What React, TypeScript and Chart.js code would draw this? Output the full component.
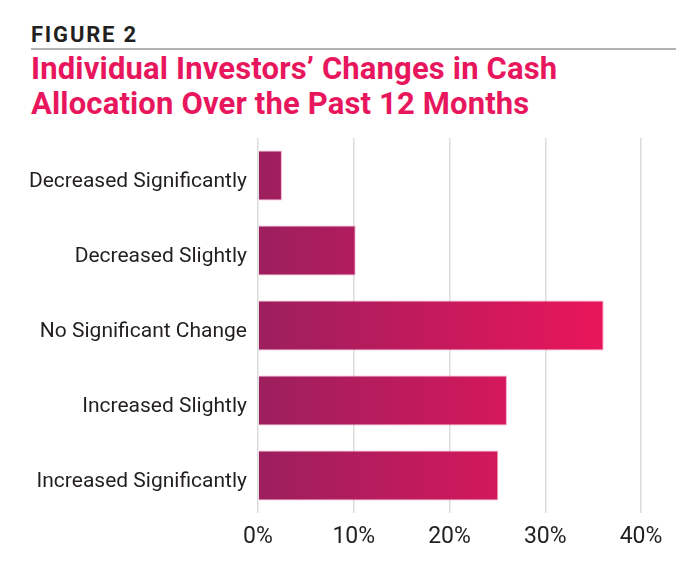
import { useEffect, useRef } from "react";
import { Chart, registerables } from "chart.js";

Chart.register(...registerables);

const categories = [
  "Decreased Significantly",
  "Decreased Slightly",
  "No Significant Change",
  "Increased Slightly",
  "Increased Significantly",
];
const shares = [2.5, 10.2, 36.1, 26.0, 25.1];
const xTicks = [0, 10, 20, 30, 40];

const App = () => {
  const canvasRef = useRef<HTMLCanvasElement | null>(null);

  useEffect(() => {
    document.body.style.margin = "0";
    const ctx = canvasRef.current?.getContext("2d");
    if (!ctx) return;

    const chart = new Chart(ctx, {
      type: "bar",
      data: {
        labels: categories,
        datasets: [
          {
            data: shares,
            backgroundColor: (c: any) => {
              const { chart: ch } = c;
              const area = ch.chartArea;
              if (!area) return "#b01e60";
              const x0 = ch.scales.x.getPixelForValue(0);
              const x1 = ch.scales.x.getPixelForValue(36.1);
              const g = ch.ctx.createLinearGradient(x0, 0, x1, 0);
              g.addColorStop(0, "#9c1f5e");
              g.addColorStop(1, "#ea155a");
              return g;
            },
            borderColor: "rgba(240,140,185,0.7)",
            borderWidth: 1,
            borderSkipped: "start",
            barPercentage: 0.667,
            categoryPercentage: 1,
          },
        ],
      },
      options: {
        indexAxis: "y",
        animation: false,
        responsive: false,
        events: [],
        layout: { padding: { top: 138, right: 59, left: 0, bottom: 0 } },
        plugins: {
          legend: { display: false },
          tooltip: { enabled: false },
        },
        scales: {
          x: {
            min: 0,
            max: 40,
            afterFit: (s: any) => {
              s.height = 59;
            },
            afterBuildTicks: (s: any) => {
              s.ticks = xTicks.map((v) => ({ value: v }));
            },
            ticks: {
              callback: (v: any) => v + "%",
              color: "#231f20",
              font: { family: "Roboto", size: 23 },
              padding: 10,
            },
            grid: {
              color: "#dcdcdc",
              lineWidth: 1.5,
              drawTicks: false,
            },
            border: { display: false },
          },
          y: {
            afterFit: (s: any) => {
              s.width = 258;
            },
            ticks: {
              color: "#231f20",
              font: { family: "Roboto", size: 21 },
              padding: 11,
              labelOffset: 6,
            },
            grid: { display: false, drawTicks: false },
            border: { display: false },
          },
        },
      },
    });

    return () => {
      chart.destroy();
    };
  }, []);

  return (
    <div
      style={{
        position: "fixed",
        left: 0,
        top: 0,
        width: 700,
        height: 572,
        background: "#fff",
        fontFamily: "Roboto, sans-serif",
      }}
    >
      <div
        style={{
          position: "absolute",
          left: 31,
          top: 23,
          fontSize: 22,
          fontWeight: 700,
          color: "#231f20",
          letterSpacing: 1.8,
          lineHeight: "24px",
        }}
      >
        FIGURE 2
      </div>
      <div
        style={{
          position: "absolute",
          left: 31,
          top: 47.5,
          width: 645,
          height: 2,
          background: "#b3b3b3",
        }}
      />
      <div
        style={{
          position: "absolute",
          left: 31,
          top: 51,
          fontSize: 31,
          fontWeight: 700,
          color: "#e8175d",
          lineHeight: "35px",
          letterSpacing: 0.15,
          whiteSpace: "nowrap",
        }}
      >
        Individual Investors’ Changes in Cash
        <br />
        Allocation Over the Past 12 Months
      </div>
      <canvas
        ref={canvasRef}
        width={700}
        height={572}
        style={{ position: "absolute", left: 0, top: 0 }}
      />
    </div>
  );
};

export default App;
